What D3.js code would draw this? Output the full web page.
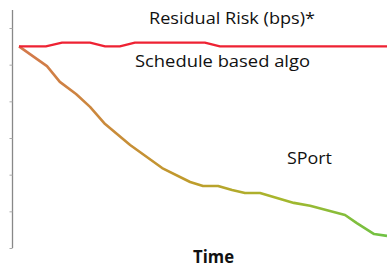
<!DOCTYPE html>
<html><head><meta charset="utf-8">
<script src="https://cdn.jsdelivr.net/npm/d3@7"></script>
<style>html,body{margin:0;padding:0;background:#fff;overflow:hidden}</style>
</head><body>
<script>
const scheduleTime = [0, 7.3, 11.7, 19.3, 23.4, 27.4, 31.5, 50.5, 54.6, 100];
const scheduleRisk = [5.5, 5.5, 5.6, 5.6, 5.5, 5.5, 5.6, 5.6, 5.5, 5.5];
const sportTime = [0, 7.6, 11.1, 15.5, 19.3, 23.4, 30.2, 38.9, 46.5, 50, 54.1, 57.9, 61.4, 65.5, 74.7, 79.1, 88.6, 91.8, 96.5, 100];
const sportRisk = [5.5, 4.96, 4.53, 4.2, 3.85, 3.38, 2.81, 2.18, 1.8, 1.69, 1.69, 1.58, 1.5, 1.5, 1.23, 1.15, 0.9, 0.68, 0.38, 0.33];
const yTicks = [0, 1, 2, 3, 4, 5, 6];
const labels = { title: "Residual Risk (bps)*", schedule: "Schedule based algo", sport: "SPort", xTitle: "Time" };

const W = 387, H = 267;
const svg = d3.select("body").append("svg").attr("width", W).attr("height", H);
const x = d3.scaleLinear().domain([0, 100]).range([19, 387]);
const y = d3.scaleLinear().domain([0, 6]).range([248, 28]);

const defs = svg.append("defs");
const grad = defs.append("linearGradient").attr("id", "sg")
  .attr("gradientUnits", "userSpaceOnUse")
  .attr("x1", x(0)).attr("x2", x(100)).attr("y1", 0).attr("y2", 0);
grad.append("stop").attr("offset", "0%").attr("stop-color", "#d4784c");
grad.append("stop").attr("offset", "45%").attr("stop-color", "#c09a2c");
grad.append("stop").attr("offset", "70%").attr("stop-color", "#a8b62c");
grad.append("stop").attr("offset", "100%").attr("stop-color", "#6fc244");

// axis
const axis = d3.axisLeft(y).tickValues(yTicks).tickSize(3).tickFormat("");
const ag = svg.append("g").attr("transform", "translate(12.5,0)").call(axis);
ag.select(".domain").attr("d", `M0,10V${y(0)}`).attr("stroke", "#888").attr("stroke-width", 1.3);
ag.selectAll(".tick line").attr("stroke", "#aaa").attr("stroke-width", 1);

const line = d3.line().x(d => x(d[0])).y(d => y(d[1]));
svg.append("path").datum(sportTime.map((t, i) => [t, sportRisk[i]]))
  .attr("d", line).attr("fill", "none").attr("stroke", "url(#sg)")
  .attr("stroke-width", 2.6).attr("stroke-linejoin", "round");
svg.append("path").datum(scheduleTime.map((t, i) => [t, scheduleRisk[i]]))
  .attr("d", line).attr("fill", "none").attr("stroke", "#ee2233")
  .attr("stroke-width", 2.2).attr("stroke-linejoin", "round");

const font = "'Open Sans', sans-serif";
function txt(s, xx, yy, size, weight, len) {
  svg.append("text").attr("x", xx).attr("y", yy).attr("font-family", font)
    .attr("font-size", size).attr("font-weight", weight).attr("fill", "#111")
    .attr("textLength", len).attr("lengthAdjust", "spacingAndGlyphs").text(s);
}
txt(labels.title, 149, 24, 17, 400, 166);
txt(labels.schedule, 135, 67, 17, 400, 175);
txt(labels.sport, 287, 164, 17, 400, 45);
txt(labels.xTitle, 193, 263, 17, 700, 41);
</script>
</body></html>
